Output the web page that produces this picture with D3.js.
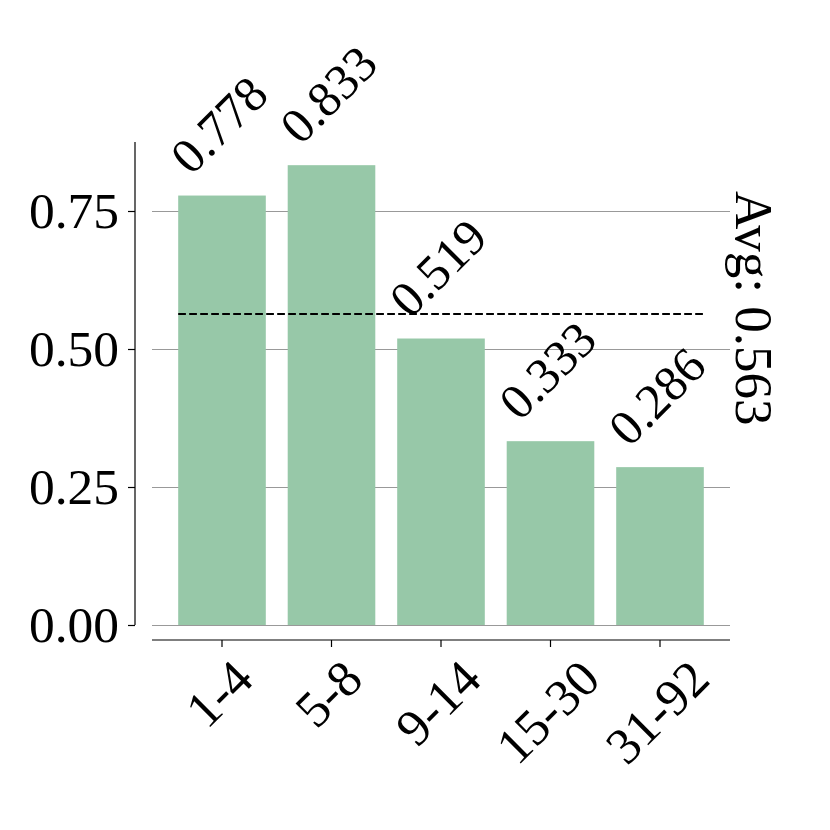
<!DOCTYPE html>
<html><head><meta charset="utf-8">
<script src="https://cdn.jsdelivr.net/npm/d3@7"></script>
<style>body{margin:0;background:#fff}</style>
</head><body>
<svg id="c" width="830" height="830"></svg>
<script>
const categories = ["1-4", "5-8", "9-14", "15-30", "31-92"];
const values = [0.778, 0.833, 0.519, 0.333, 0.286];
const avgValue = 0.563;
const yTicks = [0, 0.25, 0.5, 0.75];
const yMax = 0.875;

const svg = d3.select("#c");
const FONT = "'Liberation Serif','Times New Roman',serif";
const fs = 51.5, vfs = 50, afs = 53;

const x = d3.scaleBand().domain(categories).range([167.25, 714.75]).paddingInner(0.2).paddingOuter(0.1);
const y = d3.scaleLinear().domain([0, yMax]).range([625, 142]);

// grid
svg.append("g").selectAll("line").data(yTicks).join("line")
  .attr("x1", 152).attr("x2", 730)
  .attr("y1", d => Math.round(y(d)) + 0.5).attr("y2", d => Math.round(y(d)) + 0.5)
  .attr("stroke", "#999").attr("stroke-width", 1.1)
  .attr("shape-rendering", "crispEdges");

// bars
svg.append("g").selectAll("rect").data(values).join("rect")
  .attr("x", (d, i) => x(categories[i]))
  .attr("width", x.bandwidth())
  .attr("y", d => y(d))
  .attr("height", d => y(0) - y(d))
  .attr("fill", "#97c8a8");

// avg line
svg.append("line")
  .attr("x1", x(categories[0])).attr("x2", x(categories[categories.length-1]) + x.bandwidth())
  .attr("y1", Math.round(y(avgValue))).attr("y2", Math.round(y(avgValue)))
  .attr("stroke", "#000").attr("stroke-width", 2).attr("stroke-dasharray", "7.7,3.3");

// y axis
const yAxis = d3.axisLeft(y).tickValues(yTicks).tickFormat(d3.format(".2f")).tickSize(7).tickPadding(9);
const gy = svg.append("g").attr("transform", "translate(135,0)").call(yAxis);
gy.select(".domain").attr("d", `M0,${y(yMax)}V${y(0)}`).attr("stroke-width", 1.2);
gy.selectAll(".tick line").attr("stroke-width", 1.2);
gy.selectAll("text").attr("font-family", FONT).attr("font-size", fs).attr("fill", "#000");

// x axis
const xAxis = d3.axisBottom(x).tickSize(7).tickFormat("");
const gx = svg.append("g").attr("transform", "translate(0,640)").call(xAxis);
gx.select(".domain").attr("d", "M152,0H730").attr("stroke-width", 1.2);
gx.selectAll(".tick line").attr("stroke-width", 1.2);

// x labels rotated
const xl = svg.append("g");
categories.forEach(c => {
  const t = xl.append("text").text(c).attr("font-family", FONT).attr("font-size", fs)
    .attr("text-anchor", "middle").attr("dy", (0.34*fs) + "px");
  const w = t.node().getComputedTextLength();
  const ext = (w + 0.68*fs) / Math.SQRT2;
  const cx = x(c) + x.bandwidth()/2 - 3, cy = 657 + ext/2;
  t.attr("transform", `translate(${cx},${cy}) rotate(-45)`);
});

// value labels
const vl = svg.append("g");
values.forEach((v, i) => {
  const t = vl.append("text").text(d3.format(".3f")(v)).attr("font-family", FONT).attr("font-size", vfs)
    .attr("text-anchor", "middle").attr("dy", (0.34*vfs) + "px");
  const w = t.node().getComputedTextLength();
  const ext = (w + 0.68*vfs) / Math.SQRT2;
  const cx = x(categories[i]) + x.bandwidth()/2 - 3, cy = y(v) - 19 - ext/2;
  t.attr("transform", `translate(${cx},${cy}) rotate(-45)`);
});

// avg label
svg.append("text").text("Avg: " + d3.format(".3f")(avgValue))
  .attr("font-family", FONT).attr("font-size", afs).attr("text-anchor", "middle")
  .attr("dy", (0.34*afs) + "px")
  .attr("transform", `translate(754,${y(avgValue) - 6}) rotate(90)`);
</script>
</body></html>
